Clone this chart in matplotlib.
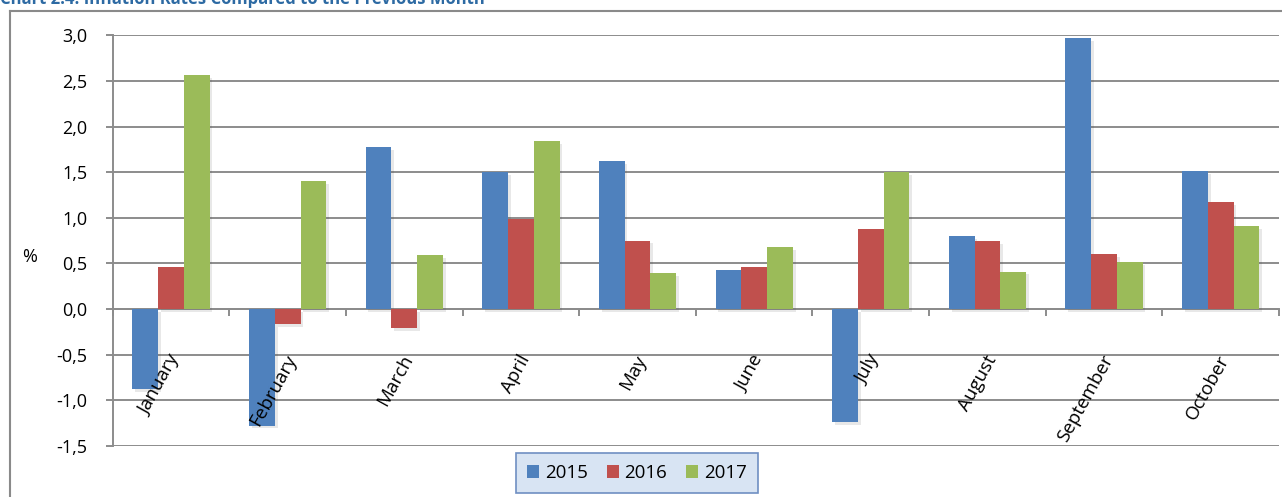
import numpy as np
import matplotlib
matplotlib.use("Agg")
import matplotlib.pyplot as plt
import matplotlib.patheffects as pe
from matplotlib.lines import Line2D
from matplotlib.patches import Patch

months = ["January", "February", "March", "April", "May", "June",
          "July", "August", "September", "October"]
series_names = ["2015", "2016", "2017"]
v2015 = [-0.88, -1.28, 1.77, 1.50, 1.62, 0.43, -1.24, 0.80, 2.97, 1.51]
v2016 = [0.46, -0.17, -0.21, 0.99, 0.75, 0.46, 0.88, 0.74, 0.60, 1.17]
v2017 = [2.56, 1.40, 0.59, 1.84, 0.39, 0.68, 1.50, 0.41, 0.51, 0.91]
yticks = [-1.5, -1.0, -0.5, 0.0, 0.5, 1.0, 1.5, 2.0, 2.5, 3.0]
colors = ["#4F81BD", "#C0504D", "#9BBB59"]

plt.rcParams['font.family'] = ['Open Sans', 'DejaVu Sans']

W, H = 1282, 497
fig = plt.figure(figsize=(W / 100, H / 100), dpi=100)
ax = fig.add_axes([112.7 / W, 1 - 445.7 / H, (1279 - 112.7) / W, (445.7 - 35.3) / H])

grid_c = "#8c8c8c"
x = np.arange(len(months))
bw = 0.221
for k, (vals, c) in enumerate(zip([v2015, v2016, v2017], colors)):
    ax.bar(x + (k - 1) * bw, vals, width=bw, color=c, zorder=3,
           path_effects=[pe.SimplePatchShadow(offset=(2, -2), alpha=0.12, shadow_rgbFace="#444444"),
                         pe.Normal()])

ax.set_xlim(-0.5, len(months) - 0.5)
ax.set_ylim(-1.5, 3.0)
ax.set_yticks(yticks)
ax.set_yticklabels([f"{t:.1f}".replace('.', ',') for t in yticks], fontsize=13)
ax.yaxis.grid(True, color=grid_c, linewidth=1.4, zorder=1)
ax.set_axisbelow(True)
ax.tick_params(axis='y', direction='out', length=5, width=1.4, color=grid_c, pad=13)

for s in ['top', 'right']:
    ax.spines[s].set_visible(False)
ax.spines['left'].set_color(grid_c)
ax.spines['left'].set_linewidth(1.4)
ax.spines['bottom'].set_position(('data', 0))
ax.spines['bottom'].set_color(grid_c)
ax.spines['bottom'].set_linewidth(1.4)
ax.set_xticks(np.arange(-0.5, len(months), 1.0))
ax.set_xticklabels([])
ax.tick_params(axis='x', direction='out', length=5, width=1.4, color=grid_c)

for i, m in enumerate(months):
    ax.text(i + 0.04, -0.52, m, rotation=61, rotation_mode='anchor',
            ha='right', va='center', fontsize=13.5, zorder=5)

fig.text(30 / W, 1 - 257 / H, "%", fontsize=13, ha='center', va='center')

handles = [Patch(facecolor=c, edgecolor='none', label=n) for c, n in zip(colors, series_names)]
leg = ax.legend(handles=handles, loc='center', bbox_to_anchor=(637 / W, 1 - 473 / H),
                bbox_transform=fig.transFigure, ncol=3, fontsize=13.5,
                frameon=True, fancybox=False, handlelength=0.65, handleheight=0.65,
                handletextpad=0.3, columnspacing=1.0, borderpad=0.6, borderaxespad=0)
frame = leg.get_frame()
frame.set_facecolor("#d8e4f3")
frame.set_edgecolor("#6f8fc2")
frame.set_linewidth(1.2)
frame.set_alpha(1)

# outer frame
fig.add_artist(Line2D([10 / W, 10 / W], [0, 1 - 11 / H], transform=fig.transFigure,
                      color="#8a8a8a", linewidth=1.5))
fig.add_artist(Line2D([10 / W, 1], [1 - 11 / H, 1 - 11 / H], transform=fig.transFigure,
                      color="#8a8a8a", linewidth=1.5))

fig.text(0.0, 1 - 4.5 / H, "Chart 2.4: Inflation Rates Compared to the Previous Month",
         fontsize=12, fontweight='bold', color="#2D6AA3", ha='left', va='baseline')

fig.savefig("out.png", dpi=100)
